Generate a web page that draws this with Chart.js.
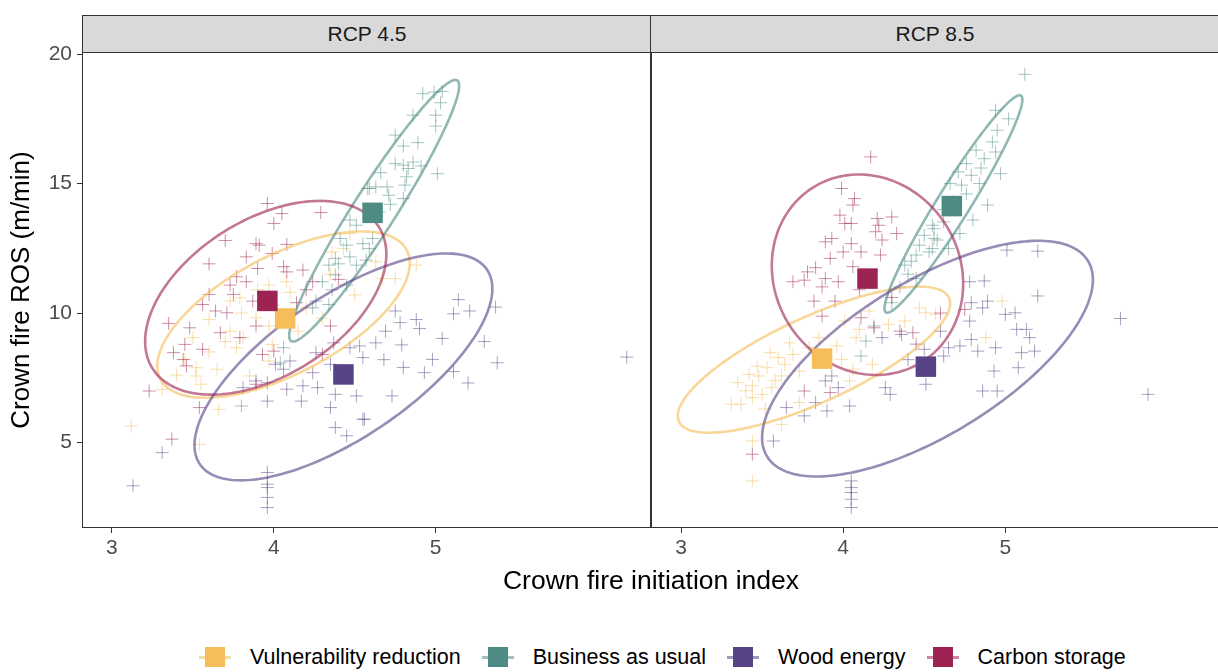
<!DOCTYPE html>
<html>
<head>
<meta charset="utf-8">
<script src="https://cdn.jsdelivr.net/npm/chart.js@4.4.1/dist/chart.umd.min.js"></script>
<style>
  html, body { margin: 0; padding: 0; background: #fff; }
  body { width: 1218px; height: 672px; overflow: hidden; position: relative; font-family: "Liberation Sans", Arial, sans-serif; }
  canvas { position: absolute; }
  .strip { position: absolute; top: 15px; height: 38px; width: 570px; box-sizing: border-box;
           background: #D9D9D9; border: 1px solid #333; color: #1A1A1A; font-size: 21px;
           display: flex; align-items: center; justify-content: center; }
  #xtitle { position: absolute; left: 82px; width: 1138px; top: 565px; height: 30px; line-height: 30px;
            text-align: center; font-size: 26.5px; color: #000; }
  #legend { position: absolute; left: 199px; top: 642px; height: 30px; display: flex; align-items: center;
            font-size: 21.5px; color: #000; white-space: nowrap; }
  .item { display: flex; align-items: center; margin-right: 21px; }
  .key { position: relative; width: 32px; height: 24px; margin-right: 19px; }
  .key .ln { position: absolute; left: 0; right: 0; top: 11px; height: 3px; }
  .key .sq { position: absolute; left: 6px; top: 2px; width: 20px; height: 20px; }
</style>
</head>
<body>
<canvas id="c45" width="652" height="543" style="left:0;top:30px"></canvas>
<canvas id="c85" width="571" height="543" style="left:651px;top:30px"></canvas>
<div class="strip" style="left:82px">RCP 4.5</div>
<div class="strip" style="left:650px">RCP 8.5</div>
<div id="xtitle">Crown fire initiation index</div>
<div id="legend"></div>
<script>
const FONT = "'Liberation Sans', Arial, sans-serif";

const xMin = 2.815, xMax = 6.33;
const yMin = 1.7, yMax = 20.08;
const xTicks = [3, 4, 5];
const yTicks = [5, 10, 15, 20];

const groups = ['Vulnerability reduction', 'Business as usual', 'Wood energy', 'Carbon storage'];
const fills = ['#F6BE5A', '#4E8B84', '#584387', '#9D2452'];

// RCP 4.5 points [index, ROS]
const vr45 = [[3.12,5.64],[3.54,4.93],[3.66,6.28],[3.31,7.05],[3.52,7.89],[3.52,7.57],[3.65,7.83],[3.77,8.66],[3.85,7.57],[3.73,9.30],[3.81,9.05],[3.89,9.82],[3.97,9.50],[3.99,8.79],[3.97,8.15],[3.50,9.05],[3.73,10.46],[3.79,10.59],[3.60,9.75],[3.55,7.25],[3.97,11.08],[4.08,11.21],[4.43,12.49],[4.47,13.07],[4.36,12.36],[4.63,11.98],[4.88,11.85],[4.67,11.33],[4.75,11.33],[4.20,10.20],[4.30,9.80],[4.50,10.70],[4.10,10.80],[3.60,8.50],[3.45,8.20],[3.90,10.90],[4.35,11.50],[3.80,10.00],[4.15,9.30],[3.70,8.90],[4.00,10.30],[3.40,7.60]];
const bau45 = [[4.92,18.47],[4.99,18.53],[5.04,18.56],[5.03,18.12],[5.00,17.64],[5.00,17.22],[4.86,17.64],[4.75,16.87],[4.80,16.45],[4.89,16.58],[4.75,15.77],[4.80,15.71],[4.83,15.58],[4.86,15.83],[4.91,15.68],[5.01,15.38],[4.66,15.42],[4.63,14.87],[4.70,14.87],[4.71,14.55],[4.81,14.94],[4.80,14.42],[4.59,14.81],[4.82,15.26],[4.58,14.81],[4.47,13.59],[4.51,13.39],[4.41,12.88],[4.45,12.62],[4.55,12.68],[4.38,12.11],[4.47,12.17],[4.34,11.85],[4.51,11.85],[4.38,11.47],[4.30,11.21],[4.45,11.08],[4.61,12.88],[4.59,12.49],[4.57,12.04],[4.24,10.20],[4.34,10.33],[4.06,8.66],[3.80,6.41],[4.04,8.08],[4.26,10.46],[4.65,13.90],[4.72,14.20],[4.40,11.90],[4.36,10.90]];
const we45 = [[5.14,10.52],[5.11,9.97],[5.21,10.08],[5.37,10.23],[4.88,9.75],[5.04,9.02],[4.79,8.77],[4.63,8.85],[4.98,8.21],[4.93,7.70],[5.11,7.74],[5.38,8.08],[6.18,8.30],[4.73,6.80],[4.56,5.90],[4.78,9.63],[4.69,9.30],[4.75,10.08],[3.96,6.60],[4.17,6.60],[4.27,7.12],[4.38,6.86],[4.51,6.80],[4.35,6.35],[4.38,5.58],[4.45,5.26],[4.55,5.90],[4.18,7.19],[4.08,7.06],[3.96,7.31],[3.81,7.12],[3.89,7.38],[3.31,4.61],[3.13,3.33],[3.96,3.84],[3.96,3.39],[3.96,3.26],[3.96,2.88],[3.96,2.49],[4.01,8.02],[4.10,8.15],[4.24,7.70],[4.35,8.02],[4.47,8.66],[4.53,8.73],[4.55,8.28],[4.37,8.85],[4.26,8.47],[4.06,7.83],[4.80,7.90],[4.68,8.20],[5.30,8.90],[5.20,7.30],[4.90,9.40]];
const cs45 = [[3.96,14.23],[4.05,13.84],[4.00,13.46],[4.29,13.88],[3.89,12.68],[3.91,12.62],[4.08,12.65],[3.83,12.17],[3.99,12.30],[3.90,11.72],[4.06,11.79],[4.08,11.59],[4.18,11.66],[3.77,11.40],[3.83,11.21],[3.73,11.08],[4.24,11.21],[3.56,10.33],[3.64,10.08],[3.71,10.01],[3.60,10.72],[3.48,9.43],[3.67,9.24],[3.79,9.05],[3.45,8.79],[3.56,8.60],[3.38,8.47],[3.44,8.21],[3.46,7.96],[3.89,9.50],[3.93,8.40],[4.00,8.53],[3.23,6.99],[3.37,5.13],[3.54,6.35],[4.30,8.40],[4.14,10.40],[3.87,10.46],[3.75,10.72],[3.89,7.25],[4.20,10.90],[4.35,9.50],[3.60,11.90],[3.70,12.80],[4.40,11.30],[3.35,9.60]];

// RCP 8.5 points
const vr85 = [[3.35,7.31],[3.44,7.19],[3.37,6.48],[3.44,6.73],[3.50,6.86],[3.42,7.63],[3.48,7.57],[3.55,8.47],[3.53,7.89],[3.60,8.28],[3.64,8.02],[3.67,8.85],[3.69,8.40],[3.73,7.76],[3.62,7.57],[3.44,5.06],[3.44,3.52],[3.62,5.70],[3.73,6.54],[3.96,8.73],[3.99,8.21],[4.06,7.83],[4.01,9.69],[4.10,9.37],[4.16,10.08],[4.28,9.56],[4.38,9.69],[4.51,10.01],[4.47,10.20],[3.85,9.05],[3.79,8.66],[4.08,9.05],[4.18,8.02],[4.04,7.38],[3.31,6.48],[3.56,7.12],[4.98,10.46],[4.88,9.05],[4.57,9.95],[3.40,7.00],[3.58,7.40],[3.52,6.30],[3.47,7.95]];
const bau85 = [[5.12,19.22],[4.94,17.83],[5.02,17.50],[4.95,17.06],[4.92,16.61],[4.94,16.22],[4.82,16.29],[4.87,15.96],[4.97,15.38],[4.76,15.77],[4.71,15.45],[4.79,15.32],[4.84,15.00],[4.73,14.94],[4.66,15.00],[4.89,14.17],[4.80,13.59],[4.72,13.07],[4.62,13.52],[4.56,13.26],[4.58,12.82],[4.55,12.49],[4.65,12.49],[4.47,12.62],[4.55,13.39],[4.45,12.24],[4.38,11.85],[4.53,12.36],[4.56,12.88],[4.45,11.33],[4.11,8.34],[4.14,8.92],[4.30,10.40],[4.19,9.50],[4.35,11.00],[4.40,11.50],[4.50,13.00],[4.68,14.30],[4.76,14.60],[4.62,14.00],[4.85,15.60],[4.42,12.00]];
const we85 = [[5.20,10.66],[5.71,9.79],[5.88,6.86],[5.07,9.37],[5.13,9.37],[5.15,9.05],[5.06,10.01],[5.00,9.95],[4.89,10.46],[4.79,10.40],[4.86,10.20],[4.78,9.69],[4.79,8.98],[4.72,8.73],[4.65,8.66],[4.83,8.53],[4.94,8.66],[5.10,8.47],[5.18,8.53],[4.93,7.76],[5.08,7.89],[4.86,6.99],[4.95,6.99],[4.62,8.34],[3.89,7.38],[3.97,7.12],[4.04,6.41],[3.90,6.22],[3.83,6.54],[3.76,6.03],[3.65,6.35],[3.57,5.06],[4.26,7.12],[4.29,6.86],[4.24,9.05],[4.36,9.17],[4.51,7.25],[4.05,3.52],[4.05,3.26],[4.05,3.07],[4.05,2.81],[4.05,2.49],[3.93,7.57],[5.01,12.43],[5.20,12.39],[4.78,11.21],[4.87,11.24],[4.50,8.60],[4.40,8.20],[4.60,9.30]];
const cs85 = [[4.17,16.03],[3.99,14.81],[4.07,14.42],[4.06,14.17],[3.98,13.78],[4.01,13.46],[4.05,13.46],[4.21,13.65],[4.22,13.39],[4.30,13.71],[4.20,13.14],[4.33,13.07],[3.93,12.88],[3.89,12.75],[4.05,12.68],[4.24,12.82],[4.00,12.36],[4.11,12.36],[3.92,12.11],[4.23,12.24],[3.83,11.75],[3.78,11.59],[4.06,11.79],[3.76,11.27],[3.89,11.33],[3.87,11.01],[3.97,11.21],[3.69,11.21],[3.82,10.46],[3.87,9.88],[3.95,10.46],[4.11,9.82],[4.19,9.43],[3.76,6.99],[3.92,6.93],[3.44,4.55],[4.35,9.30],[4.43,9.24],[4.75,10.14],[4.60,10.00],[4.45,8.80],[4.30,10.60],[4.10,10.90]];

// group means, in legend order
const means45 = [[4.07,9.79],[4.61,13.87],[4.43,7.63],[3.96,10.47]];
const means85 = [[3.87,8.24],[4.67,14.13],[4.51,7.93],[4.15,11.33]];

// ellipses: [centre x, centre y, half width x, half height y, correlation]
const ell45 = [[4.06,9.94,0.78,3.21,0.62],[4.62,13.95,0.525,5.05,0.955],[4.43,7.92,0.92,4.38,0.69],[3.95,10.59,0.745,3.74,0.45]];
const ell85 = [[3.82,8.20,0.84,2.82,0.77],[4.68,14.21,0.425,4.20,0.96],[4.52,8.24,1.02,4.55,0.67],[4.15,11.48,0.59,3.87,-0.09]];

function hexA(hex, a) {
  const n = parseInt(hex.slice(1), 16);
  return `rgba(${n >> 16},${(n >> 8) & 255},${n & 255},${a})`;
}

const panelPlugin = {
  id: 'panel',
  beforeDatasetsDraw(chart) { chart.$ellDone = false; },
  beforeDatasetDraw(chart, args) {
    const ds = chart.data.datasets[args.index];
    if (chart.$ellDone || ds.kind !== 'mean') return;
    chart.$ellDone = true;
    const { ctx, chartArea: ca, scales: { x, y } } = chart;
    ctx.save();
    ctx.beginPath();
    ctx.rect(ca.left, ca.top, ca.width, ca.height);
    ctx.clip();
    chart.options.plugins.panel.ellipses.forEach((e, i) => {
      const [cx, cy, sx, sy, r] = e;
      const q = Math.sqrt(1 - r * r);
      ctx.beginPath();
      for (let k = 0; k <= 200; k++) {
        const t = k / 200 * Math.PI * 2;
        const px = x.getPixelForValue(cx + sx * Math.cos(t));
        const py = y.getPixelForValue(cy + sy * (r * Math.cos(t) + q * Math.sin(t)));
        k ? ctx.lineTo(px, py) : ctx.moveTo(px, py);
      }
      ctx.closePath();
      ctx.strokeStyle = hexA(fills[i], 0.62);
      ctx.lineWidth = 2.6;
      ctx.stroke();
    });
    ctx.restore();
  },
  afterDatasetsDraw(chart) {
    const { ctx, chartArea: ca } = chart;
    ctx.save();
    ctx.strokeStyle = '#333';
    ctx.lineWidth = 1;
    ctx.strokeRect(ca.left + 0.5, ca.top + 0.5, ca.width - 1, ca.height - 1);
    ctx.restore();
  }
};

function makeChart(id, pts, means, ells, showY) {
  const datasets = [];
  pts.forEach((p, i) => datasets.push({
    kind: 'pts',
    label: groups[i],
    data: p.map(([x, y]) => ({ x, y })),
    pointStyle: 'cross',
    pointRadius: 6.5,
    pointBorderWidth: 1,
    borderColor: hexA(fills[i], 0.5),
    backgroundColor: hexA(fills[i], 0.5),
    order: 20 - i
  }));
  means.forEach((m, i) => datasets.push({
    kind: 'mean',
    label: groups[i] + ' mean',
    data: [{ x: m[0], y: m[1] }],
    pointStyle: 'rect',
    pointRadius: 14.5,
    borderWidth: 0,
    backgroundColor: fills[i],
    order: 10 - i
  }));

  return new Chart(document.getElementById(id), {
    type: 'scatter',
    data: { datasets },
    plugins: [panelPlugin],
    options: {
      responsive: false,
      animation: false,
      layout: { autoPadding: false, padding: { top: 22, left: 0, right: 1, bottom: 0 } },
      plugins: {
        legend: { display: false },
        tooltip: { enabled: false },
        panel: { ellipses: ells }
      },
      scales: {
        x: {
          type: 'linear', min: xMin, max: xMax,
          afterBuildTicks: s => { s.ticks = xTicks.map(v => ({ value: v })); },
          afterFit: s => { s.height = 45; },
          grid: { drawOnChartArea: false, drawTicks: true, tickLength: 5, color: '#333' },
          border: { display: false },
          ticks: { color: '#4D4D4D', font: { size: 21, family: FONT }, padding: 3, maxRotation: 0 }
        },
        y: {
          type: 'linear', display: showY, min: yMin, max: yMax,
          afterBuildTicks: s => { s.ticks = yTicks.map(v => ({ value: v })); },
          afterFit: s => { s.width = showY ? 82 : 0; },
          grid: { drawOnChartArea: false, drawTicks: true, tickLength: 5, color: '#333' },
          border: { display: false },
          ticks: { color: '#4D4D4D', font: { size: 21, family: FONT }, padding: 5 },
          title: { display: true, text: 'Crown fire ROS (m/min)', color: '#000',
                   font: { size: 26, family: FONT }, padding: { top: 6, bottom: 0 } }
        }
      }
    }
  });
}

makeChart('c45', [vr45, bau45, we45, cs45], means45, ell45, true);
makeChart('c85', [vr85, bau85, we85, cs85], means85, ell85, false);

const legend = document.getElementById('legend');
groups.forEach((g, i) => {
  const item = document.createElement('div');
  item.className = 'item';
  item.innerHTML = `<span class="key"><i class="ln" style="background:${hexA(fills[i], 0.55)}"></i>` +
    `<i class="sq" style="background:${fills[i]}"></i></span><span>${g}</span>`;
  legend.appendChild(item);
});
</script>
</body>
</html>
